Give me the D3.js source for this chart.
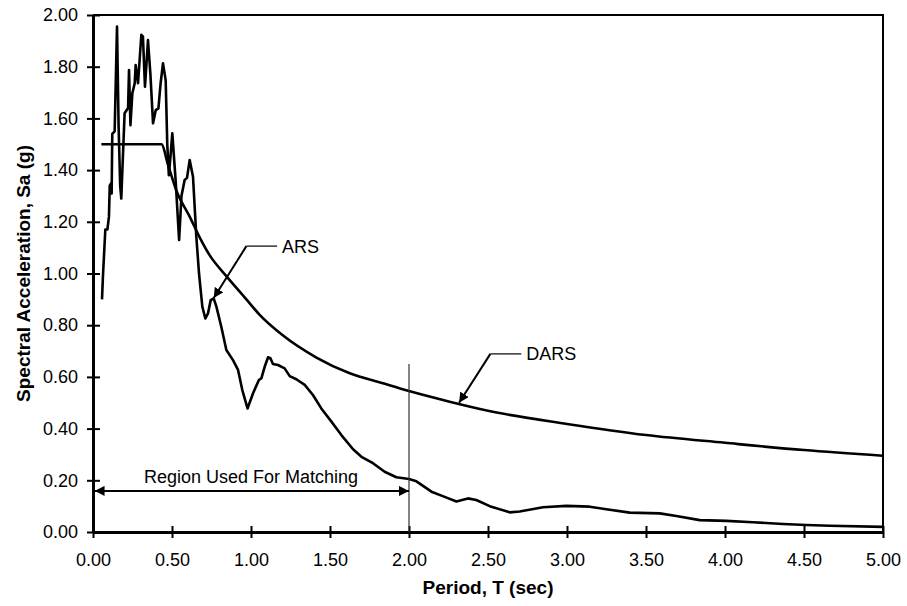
<!DOCTYPE html>
<head>
  <meta charset="utf-8">
  <script src="https://d3js.org/d3.v7.min.js"></script>
  <style>
    body { margin:0; background:white; }
    svg { display:block; }
    text { font-family: Arial, "Liberation Sans", sans-serif; fill:#000; }
  </style>
</head>
<body>
<div id="chart"></div>
<script>

// periods (sec) and spectral accelerations (g)
var arsT  = [0.057,0.063,0.078,0.091,0.101,0.106,0.116,0.118,0.122,0.137,0.152,0.162,0.172,0.179,0.200,0.222,0.228,0.237,0.249,0.264,0.270,0.285,0.306,0.316,0.329,0.348,0.363,0.380,0.397,0.414,0.428,0.443,0.460,0.470,0.480,0.490,0.502,0.523,0.545,0.560,0.580,0.595,0.612,0.633,0.654,0.671,0.692,0.711,0.728,0.745,0.764,0.781,0.812,0.844,0.886,0.918,0.945,0.978,1.013,1.050,1.066,1.087,1.108,1.123,1.139,1.171,1.213,1.245,1.287,1.340,1.392,1.445,1.509,1.572,1.646,1.699,1.772,1.846,1.920,2.000,2.047,2.142,2.226,2.300,2.373,2.426,2.511,2.637,2.700,2.848,2.996,3.144,3.249,3.397,3.587,3.692,3.840,4.009,4.177,4.367,4.515,4.663,5.000];
var arsSa = [0.90,0.99,1.17,1.17,1.22,1.34,1.35,1.31,1.54,1.55,1.955,1.57,1.34,1.29,1.62,1.64,1.787,1.574,1.697,1.736,1.806,1.736,1.923,1.916,1.723,1.903,1.774,1.581,1.632,1.639,1.736,1.813,1.748,1.50,1.38,1.45,1.542,1.36,1.13,1.30,1.362,1.37,1.439,1.374,1.142,1.00,0.872,0.826,0.846,0.897,0.904,0.872,0.794,0.704,0.665,0.627,0.549,0.478,0.537,0.588,0.595,0.640,0.676,0.672,0.650,0.646,0.633,0.603,0.591,0.569,0.530,0.478,0.427,0.375,0.320,0.291,0.266,0.233,0.212,0.205,0.196,0.156,0.136,0.118,0.130,0.124,0.100,0.076,0.079,0.096,0.101,0.098,0.088,0.075,0.072,0.062,0.046,0.043,0.038,0.031,0.027,0.024,0.020];

var darsT  = [0.053,0.433,0.475,0.528,0.612,0.675,0.739,0.844,0.971,1.055,1.203,1.414,1.625,1.835,2.000,2.257,2.500,3.000,3.500,4.000,4.500,5.000];
var darsSa = [1.50,1.50,1.42,1.32,1.22,1.14,1.07,0.99,0.90,0.84,0.76,0.675,0.614,0.575,0.545,0.504,0.469,0.418,0.375,0.345,0.317,0.295];

var xTicks = [0,0.5,1,1.5,2,2.5,3,3.5,4,4.5,5];
var yTicks = [0,0.2,0.4,0.6,0.8,1.0,1.2,1.4,1.6,1.8,2.0];

var width = 907, height = 606;
var margin = {top: 15, right: 24, bottom: 74, left: 93};

var svg = d3.select("#chart").append("svg")
    .attr("width", width)
    .attr("height", height);

var x = d3.scaleLinear().domain([0, 5]).range([margin.left, width - margin.right]);
var y = d3.scaleLinear().domain([0, 2]).range([height - margin.bottom, margin.top]);

// arrow heads
var defs = svg.append("defs");
defs.append("marker")
    .attr("id", "head")
    .attr("viewBox", "0 0 10 10")
    .attr("refX", 10).attr("refY", 5)
    .attr("markerWidth", 10).attr("markerHeight", 10)
    .attr("markerUnits", "userSpaceOnUse")
    .attr("orient", "auto-start-reverse")
  .append("path")
    .attr("d", "M0,0 L10,5 L0,10 z")
    .attr("fill", "#000");

// frame (top and right)
svg.append("path")
    .attr("d", "M" + x(0) + "," + y(2) + " H" + x(5) + " V" + y(0))
    .attr("fill", "none")
    .attr("stroke", "#000")
    .attr("stroke-width", 2);

// axes
var xAxis = svg.append("g")
    .attr("transform", "translate(0," + y(0) + ")")
    .call(d3.axisBottom(x).tickValues(xTicks).tickFormat(d3.format(".2f")).tickSizeInner(6).tickSizeOuter(0));
xAxis.select(".domain").attr("stroke-width", 3);
xAxis.selectAll(".tick line").attr("y1", -6).attr("stroke-width", 2);
xAxis.selectAll(".tick text")
    .attr("y", 34).attr("dy", 0)
    .style("font-size", "18px")
    .style("font-family", "Arial, 'Liberation Sans', sans-serif");

var yAxis = svg.append("g")
    .attr("transform", "translate(" + x(0) + ",0)")
    .call(d3.axisLeft(y).tickValues(yTicks).tickFormat(d3.format(".2f")).tickSizeInner(6).tickSizeOuter(0));
yAxis.select(".domain").attr("stroke-width", 3);
yAxis.selectAll(".tick line").attr("x1", 7).attr("x2", -6).attr("stroke-width", 2);
yAxis.selectAll(".tick text")
    .attr("x", -15)
    .style("font-size", "18px")
    .style("font-family", "Arial, 'Liberation Sans', sans-serif");

// axis titles
svg.append("text")
    .attr("x", (x(0) + x(5)) / 2)
    .attr("y", 594)
    .attr("text-anchor", "middle")
    .style("font-size", "19px")
    .style("font-weight", "bold")
    .text("Period, T (sec)");

svg.append("text")
    .attr("transform", "translate(30," + (y(0) + y(2)) / 2 + ") rotate(-90)")
    .attr("text-anchor", "middle")
    .style("font-size", "19px")
    .style("font-weight", "bold")
    .text("Spectral Acceleration, Sa (g)");

var line = d3.line()
    .x(function(d) { return x(d[0]); })
    .y(function(d) { return y(d[1]); });

// DARS target spectrum
svg.append("path")
    .datum(d3.zip(darsT, darsSa))
    .attr("d", line.curve(d3.curveMonotoneX))
    .attr("fill", "none")
    .attr("stroke", "#000")
    .attr("stroke-width", 2.6);

// ARS
svg.append("path")
    .datum(d3.zip(arsT, arsSa))
    .attr("d", line.curve(d3.curveLinear))
    .attr("fill", "none")
    .attr("stroke", "#000")
    .attr("stroke-width", 2.6)
    .attr("stroke-linejoin", "round");

// matching region marker
svg.append("line")
    .attr("x1", x(2)).attr("x2", x(2))
    .attr("y1", y(0)).attr("y2", y(0.65))
    .attr("stroke", "#333")
    .attr("stroke-width", 1.2);

svg.append("line")
    .attr("x1", x(0.01)).attr("x2", x(2))
    .attr("y1", y(0.159)).attr("y2", y(0.159))
    .attr("stroke", "#000")
    .attr("stroke-width", 2)
    .attr("marker-start", "url(#head)")
    .attr("marker-end", "url(#head)");

svg.append("text")
    .attr("x", x(1.0))
    .attr("y", y(0.191))
    .attr("text-anchor", "middle")
    .style("font-size", "18px")
    .text("Region Used For Matching");

// curve labels with leaders
function callout(tip, elbow, endT, label) {
  svg.append("path")
      .attr("d", "M" + x(endT) + "," + y(elbow[1]) + " H" + x(elbow[0]))
      .attr("stroke", "#000").attr("stroke-width", 1.2).attr("fill", "none");
  svg.append("line")
      .attr("x1", x(elbow[0])).attr("y1", y(elbow[1]))
      .attr("x2", x(tip[0])).attr("y2", y(tip[1]))
      .attr("stroke", "#000").attr("stroke-width", 2)
      .attr("marker-end", "url(#head)");
  svg.append("text")
      .attr("x", x(endT) + 5)
      .attr("y", y(elbow[1]))
      .attr("dy", "0.36em")
      .style("font-size", "18px")
      .text(label);
}

callout([0.764, 0.905], [0.971, 1.106], 1.165, "ARS");
callout([2.317, 0.50], [2.515, 0.689], 2.711, "DARS");

</script>
</body>
